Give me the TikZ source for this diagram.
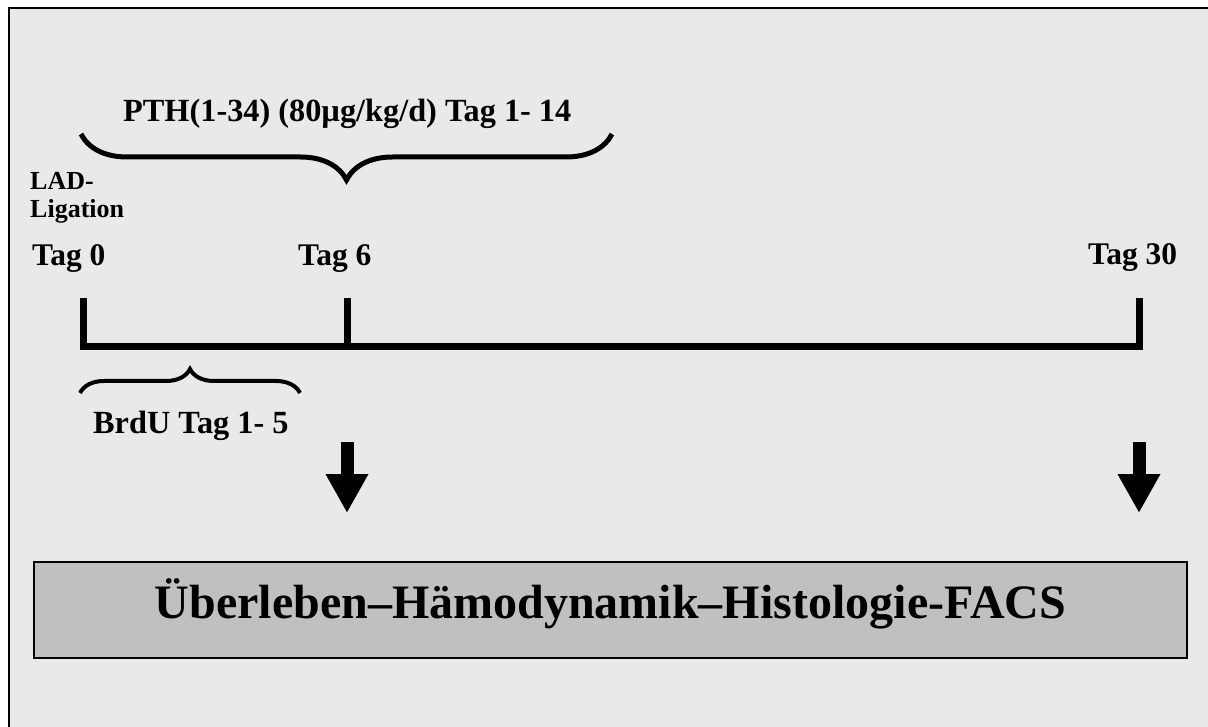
\documentclass[tikz,border=0pt]{standalone}
\usepackage{fontspec}
\setmainfont{Liberation Serif}
\usetikzlibrary{arrows.meta,decorations.pathreplacing}

\definecolor{panel}{HTML}{E9E9E9}
\definecolor{result}{HTML}{C0C0C0}

\tikzset{
  lbl/.style={inner sep=0pt, anchor=base west, font=\bfseries\fontsize{31.5}{34}\selectfont},
  widelbl/.style={inner sep=0pt, anchor=base west, font=\bfseries\fontsize{32.3}{35}\selectfont},
  smalllbl/.style={inner sep=0pt, anchor=base west, font=\bfseries\fontsize{26}{28}\selectfont},
  axis/.style={line width=7pt, line join=miter, line cap=butt},
  bigbrace/.style={decorate, line width=5pt, decoration={brace, amplitude=46pt}},
  smallbrace/.style={decorate, line width=4pt, decoration={brace, amplitude=24pt}},
  blockarrow/.style={line width=13pt, -{Triangle[length=39pt, width=40pt]}},
  resultbox/.style={draw=black, line width=2pt, fill=result, minimum width=1153pt,
    minimum height=96pt, inner sep=0pt},
}

\begin{document}
\begin{tikzpicture}[x=1pt, y=-1pt]
  \useasboundingbox (0,0) rectangle (1208,727);
  \clip (0,0) rectangle (1208,727);

  % outer panel (its right and bottom edges lie beyond the page)
  \draw[line width=2pt, fill=panel] (9,8) rectangle (1230,750);

  % therapy window above the time line
  \node[widelbl] (pth) at (123,122) {PTH(1-34) (80µg/kg/d) Tag 1- 14};
  \draw[bigbrace] (612,134) -- (81,134);

  % day labels
  \node[smalllbl] (lad) at (30,190) {LAD-};
  \node[smalllbl] (lig) at (30,218) {Ligation};
  \node[lbl] (tag0) at (32,266) {Tag 0};
  \node[lbl] (tag6) at (298,266) {Tag 6};
  \node[lbl] (tag30) at (1088,265) {Tag 30};

  % time line with ticks
  \coordinate (t0) at (83.5,298);
  \coordinate (t6) at (347,298);
  \coordinate (t30) at (1139,298);
  \coordinate (b0) at (83.5,346.5);
  \coordinate (b6) at (347,346.5);
  \coordinate (b30) at (1139,346.5);
  \draw[axis] (t0) -- (b0) -- (b30) -- (t30);
  \draw[axis] (t6) -- (b6);

  % BrdU labelling window
  \draw[smallbrace] (80,393) -- (300,393);
  \node[widelbl] (brdu) at (93,433) {BrdU Tag 1- 5};

  % read-out arrows
  \coordinate (s6) at (347,442);
  \coordinate (e6) at (347,513);
  \coordinate (s30) at (1139,442);
  \coordinate (e30) at (1139,513);
  \draw[blockarrow] (s6) -- (e6);
  \draw[blockarrow] (s30) -- (e30);

  % end points box
  \node[resultbox] (box) at (610.5,610) {};
  \node[inner sep=0pt, anchor=base, font=\bfseries\fontsize{48}{52}\selectfont]
    (res) at (610.5,618) {Überleben–Hämodynamik–Histologie-FACS};
\end{tikzpicture}
\end{document}
